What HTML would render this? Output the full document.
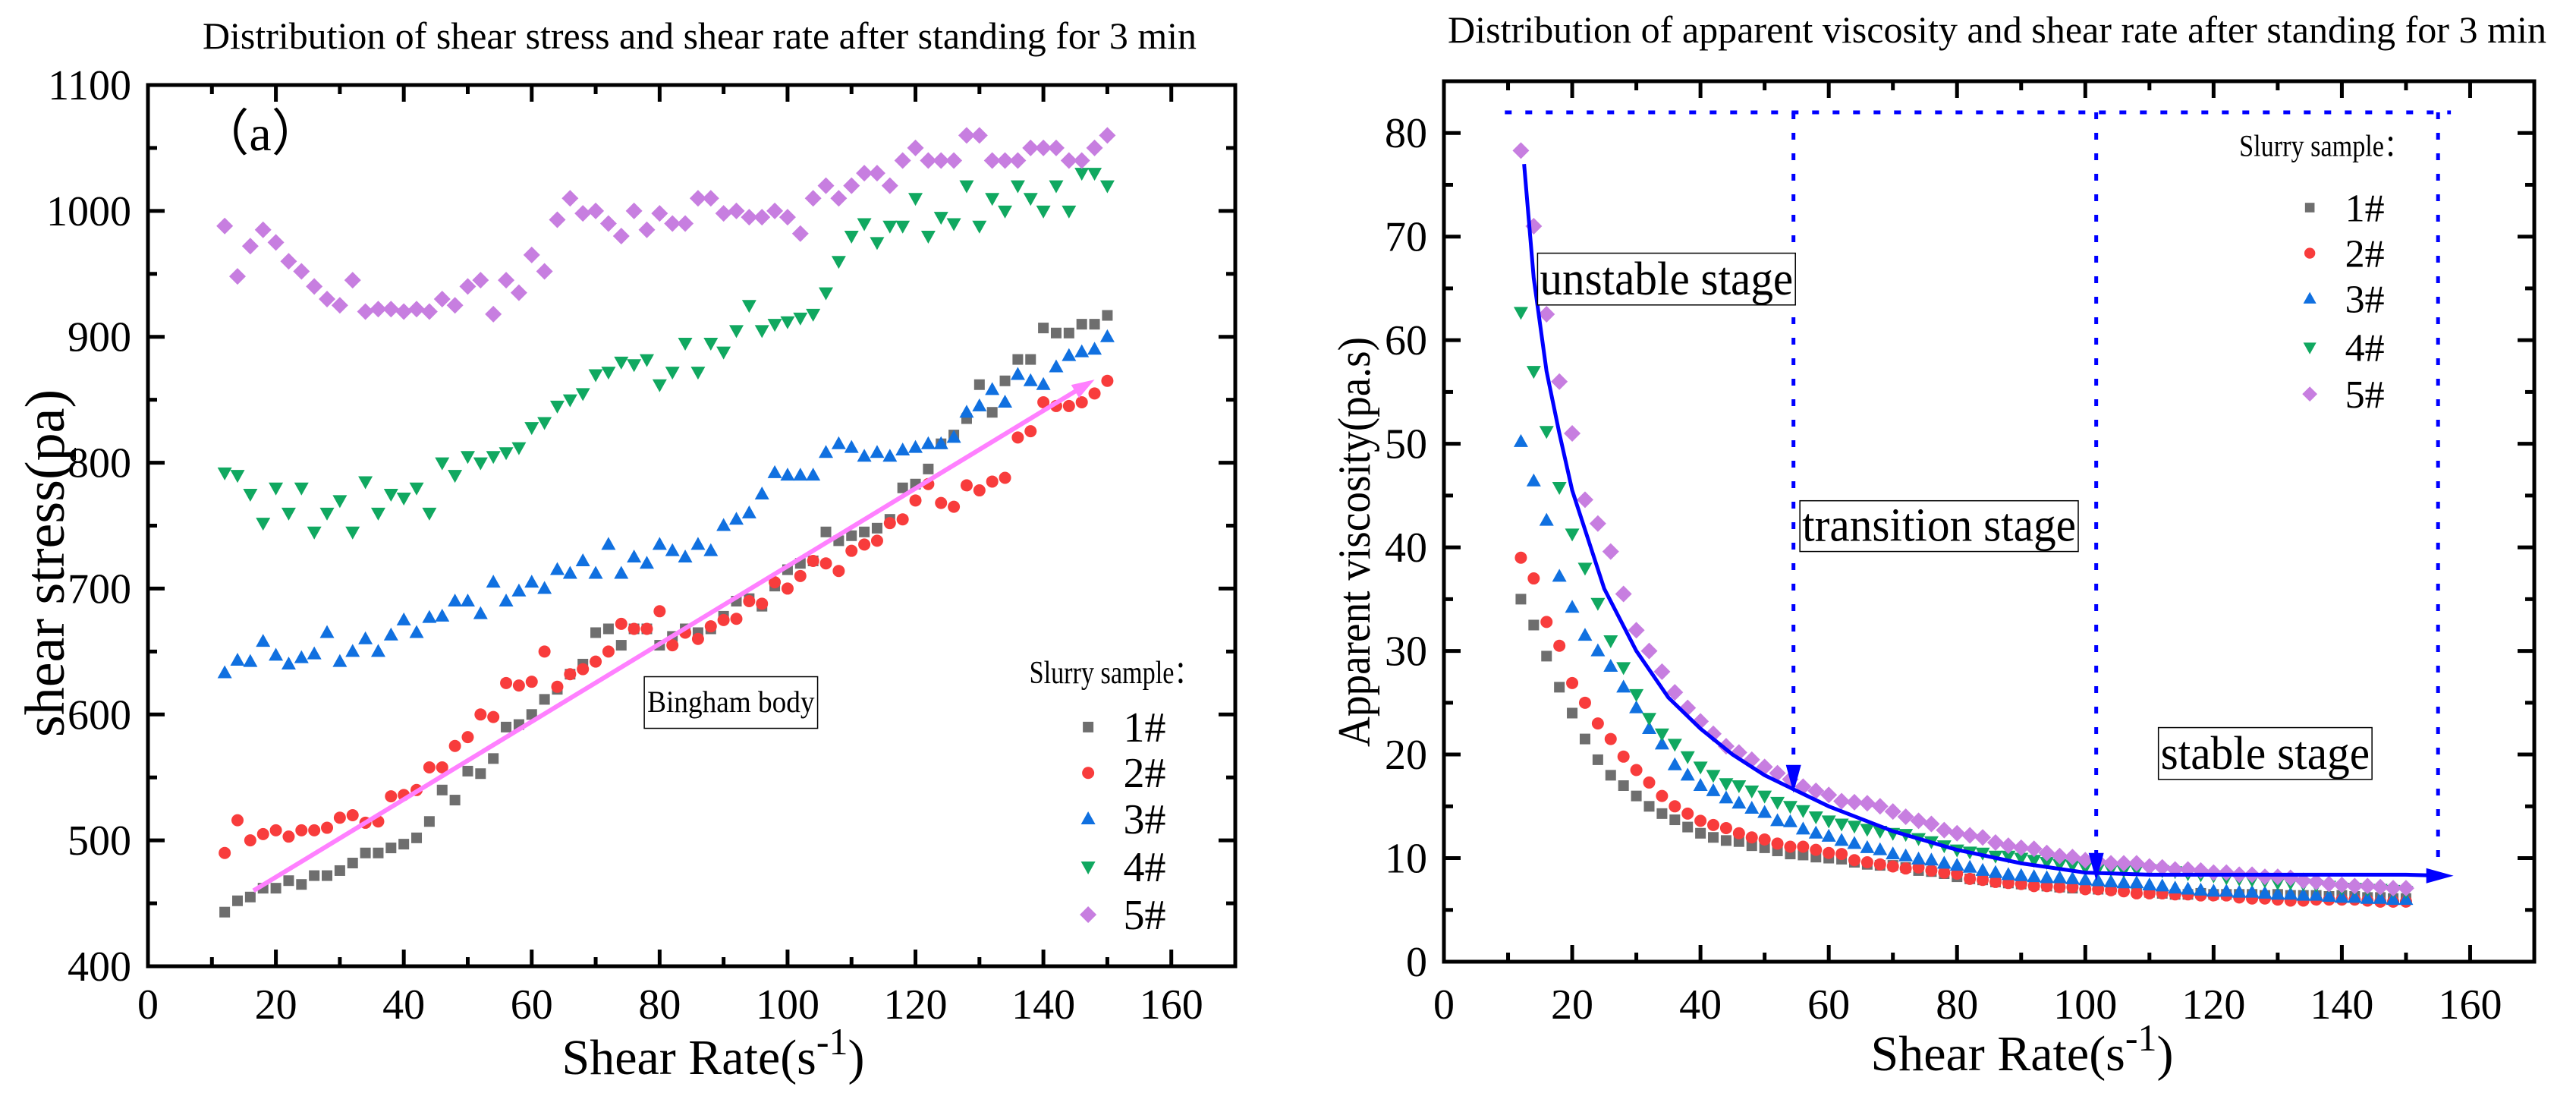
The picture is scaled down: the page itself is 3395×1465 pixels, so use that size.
<!DOCTYPE html>
<html><head><meta charset="utf-8"><style>
html,body{margin:0;padding:0;background:#fff}
svg{display:block}
text{font-family:"Liberation Serif",serif;fill:#000}
</style></head><body>
<svg id="svg" width="3395" height="1465" viewBox="0 0 3395 1465" xmlns="http://www.w3.org/2000/svg"></svg>
<script>
const xs=[12,14,16,18,20,22,24,26,28,30,32,34,36,38,40,42,44,46,48,50,52,54,56,58,60,62,64,66,68,70,72,74,76,78,80,82,84,86,88,90,92,94,96,98,100,102,104,106,108,110,112,114,116,118,120,122,124,126,128,130,132,134,136,138,140,142,144,146,148,150];
const seriesNames=["1#","2#","3#","4#","5#"];
const stress1=[443,452,455,462,462,468,465,472,472,476,482,490,490,494,497,502,515,540,532,555,553,565,590,592,600,612,620,632,640,665,668,655,668,668,655,662,668,665,668,678,690,692,686,702,715,720,722,745,738,742,745,748,755,780,783,795,815,822,835,862,840,865,882,882,907,903,903,910,910,917];
const stress2=[490,516,500,505,508,503,508,508,510,518,520,514,515,535,536,540,558,558,575,582,600,598,625,623,626,650,622,632,636,642,650,672,668,668,682,655,665,660,670,675,676,690,688,705,700,710,722,720,714,730,735,738,752,755,770,783,768,765,782,778,785,788,820,825,848,845,845,848,855,865];
const stress3=[633,643,642,658,647,640,645,648,665,642,650,660,650,663,675,665,677,678,690,690,680,705,690,698,705,700,715,712,722,712,735,712,725,720,735,730,725,735,730,750,755,760,775,792,790,790,790,808,815,812,805,808,805,810,812,815,815,820,840,845,858,848,870,865,862,876,885,888,890,900];
const stress4=[792,790,775,752,780,760,780,745,760,770,745,785,760,775,772,780,760,800,790,805,800,805,808,812,828,832,845,850,855,870,872,880,878,882,862,872,895,872,895,888,905,925,905,910,912,915,918,935,960,980,990,975,988,988,1010,980,995,990,1020,988,1010,1000,1020,1010,1000,1020,1000,1030,1030,1020];
const stress5=[988,948,972,985,975,960,952,940,930,925,945,920,922,922,920,922,920,930,925,940,945,918,945,935,965,952,993,1010,998,1000,990,980,1000,985,998,990,990,1010,1010,998,1000,995,995,1000,995,982,1010,1020,1010,1020,1030,1030,1020,1040,1050,1040,1040,1040,1060,1060,1040,1040,1040,1050,1050,1050,1040,1040,1050,1060];
const visc1=[35,32.5,29.5,26.5,24,21.5,19.5,18,17,16,15,14.3,13.7,13,12.4,12,11.7,11.6,11.2,11,10.7,10.4,10.3,10.1,10,9.9,9.6,9.4,9.3,9.3,9.1,8.8,8.7,8.5,8.2,8,7.9,7.7,7.6,7.5,7.4,7.3,7.2,7.1,7.1,7,7,7,6.8,6.7,6.6,6.5,6.5,6.6,6.5,6.5,6.5,6.5,6.4,6.5,6.4,6.4,6.4,6.3,6.4,6.3,6.2,6.2,6.1,6.1];
const visc2=[39,37,32.8,30.5,26.9,25,23,21.5,19.8,18.5,17.3,16,15,14.3,13.6,13.2,12.9,12.4,12,11.8,11.4,11.1,11.1,10.8,10.5,10.4,9.8,9.6,9.4,9.2,9,9.1,8.8,8.6,8.5,8,7.9,7.7,7.6,7.5,7.3,7.3,7.2,7.2,7,7,6.9,6.8,6.6,6.6,6.6,6.5,6.5,6.4,6.4,6.4,6.2,6.1,6.1,6,5.9,5.9,6,6,6,6,5.9,5.8,5.8,5.8];
const visc3=[50.2,46.4,42.6,37.2,34.2,31.5,30,28.5,26.5,24.5,22.5,21,19,18,17,16.5,15.8,15.3,14.8,14.4,13.6,13.5,12.8,12.4,12.1,11.7,11.4,11,10.8,10.4,10.2,9.9,9.8,9.5,9.3,9.1,8.8,8.6,8.4,8.3,8.2,8.1,8.1,8,7.9,7.8,7.7,7.6,7.6,7.4,7.3,7.1,7,6.9,6.8,6.8,6.7,6.7,6.6,6.5,6.5,6.4,6.4,6.3,6.2,6.2,6.1,6.1,6,6];
const visc4=[62.7,57,51.2,45.8,41.3,38,34.6,31,28.4,25.8,23.5,22,21,19.8,18.8,18,17.2,17,16.5,16,15.4,15,14.6,14,13.6,13.3,13.1,12.8,12.6,12.4,12.3,11.9,11.6,11.2,10.8,10.6,10.5,10.2,10.2,10,9.8,9.6,9.4,9.3,9.1,9,8.9,8.8,8.9,8.9,8.8,8.7,8.5,8.4,8.3,8.1,8,7.9,7.8,7.6,7.6,7.5,7.4,7.3,7.1,7.1,7,7,6.9,6.8];
const visc5=[78.3,71,62.5,56,51,44.6,42.3,39.6,35.5,32,30,28,26,24.5,23.2,22,20.8,20.2,19.5,18.8,18.2,17.6,16.9,16.5,16.1,15.5,15.4,15.3,15,14.5,14,13.6,13.3,12.7,12.4,12.2,12,11.5,11.2,11,10.9,10.5,10.2,10.1,9.8,9.7,9.5,9.5,9.5,9.2,9.1,8.9,8.9,8.8,8.6,8.6,8.4,8.4,8.2,8.2,8.1,7.8,7.7,7.5,7.4,7.3,7.3,7.2,7.1,7.1];
const fitX=[12.5,14,16,18,20,25,30,35,40,45,50,55,60,70,80,90,100,110,120,130,140,150,156];
const fitY=[77,66,57,51,45.5,36,30,25.5,22.5,20,18,16.5,15,12.6,10.8,9.5,8.6,8.4,8.4,8.4,8.4,8.4,8.3];
const xTicks=[0,20,40,60,80,100,120,140,160];
const yTicksL=[400,500,600,700,800,900,1000,1100];
const yTicksR=[0,10,20,30,40,50,60,70,80];

const NS="http://www.w3.org/2000/svg";
const svg=document.getElementById('svg');
function mk(tag,attrs,parent,txt){const e=document.createElementNS(NS,tag);for(const k in attrs)e.setAttribute(k,attrs[k]);if(txt!==undefined)e.textContent=txt;(parent||svg).appendChild(e);return e;}
const colors=["#6e6e6e","#f83c3c","#1070e0","#10a860","#c77ee0"];

function marker(g,i,x,y,s){
  let e;
  if(i===0)e=mk('rect',{x:x-7*s,y:y-7*s,width:14*s,height:14*s,fill:colors[0]},g);
  else if(i===1)e=mk('circle',{cx:x,cy:y,r:8*s,fill:colors[1]},g);
  else if(i===2)e=mk('polygon',{points:`${x},${y-10*s} ${x+9.5*s},${y+7*s} ${x-9.5*s},${y+7*s}`,fill:colors[2]},g);
  else if(i===3)e=mk('polygon',{points:`${x},${y+10*s} ${x+9.5*s},${y-7*s} ${x-9.5*s},${y-7*s}`,fill:colors[3]},g);
  else e=mk('polygon',{points:`${x},${y-11*s} ${x+11*s},${y} ${x},${y+11*s} ${x-11*s},${y}`,fill:colors[4]},g);
  
  
  return e;
}

function axes(g,X0,X1,Y0,Y1,sx,sy,yTicks,yMinor){
  for(let v=0;v<=170;v+=10){const maj=v%20===0;const L=maj?22:12;const x=sx(v);
    mk('line',{x1:x,y1:Y1,x2:x,y2:Y1-L,stroke:'#000','stroke-width':5},g);
    mk('line',{x1:x,y1:Y0,x2:x,y2:Y0+L,stroke:'#000','stroke-width':5},g);}
  yMinor.forEach(v=>{const maj=yTicks.includes(v);const L=maj?22:12;const y=sy(v);
    mk('line',{x1:X0,y1:y,x2:X0+L,y2:y,stroke:'#000','stroke-width':5},g);
    mk('line',{x1:X1,y1:y,x2:X1-L,y2:y,stroke:'#000','stroke-width':5},g);});
  const fr=mk('rect',{x:X0,y:Y0,width:X1-X0,height:Y1-Y0,fill:'none',stroke:'#000','stroke-width':5},g);
  
  const xg=mk('g',{},g);
  xTicks.forEach(v=>mk('text',{x:sx(v),y:1342,'font-size':56,'text-anchor':'middle'},xg,String(v)));
  const yg=mk('g',{},g);
  yTicks.forEach(v=>mk('text',{x:X0-22,y:sy(v)+19,'font-size':56,'text-anchor':'end'},yg,String(v)));
}

/* ---------- LEFT CHART ---------- */
{
const X0=195,X1=1628,Y0=112,Y1=1273;
const sx=v=>X0+(v-0)*(X1-X0)/170, sy=v=>Y1-(v-400)*(Y1-Y0)/700;
const g=mk('g',{});
const t=mk('text',{x:922,y:64,'font-size':50,'text-anchor':'middle',textLength:1310,lengthAdjust:'spacingAndGlyphs'},g,'Distribution of shear stress and shear rate after standing for 3 min');

const minors=[];for(let v=400;v<=1100;v+=50)minors.push(v);
axes(g,X0,X1,Y0,Y1,sx,sy,yTicksL,minors);
const data=[stress1,stress2,stress3,stress4,stress5];
data.forEach((arr,i)=>{const sg=mk('g',{},g);
  arr.forEach((v,k)=>marker(sg,i,sx(xs[k]),sy(v),1));});
const ax1=sx(16.5),ay1=sy(460),ax2=sx(148),ay2=sy(866);
const ang=Math.atan2(ay2-ay1,ax2-ax1);
const bl=mk('line',{x1:ax1,y1:ay1,x2:ax2-20*Math.cos(ang),y2:ay2-20*Math.sin(ang),stroke:'#ff80ff','stroke-width':6},g);

const hx=ax2,hy=ay2,c=Math.cos(ang),s=Math.sin(ang);
mk('polygon',{points:`${hx},${hy} ${hx-30*c+10*s},${hy-30*s-10*c} ${hx-30*c-10*s},${hy-30*s+10*c}`,fill:'#ff80ff'},g);
const bb=mk('g',{},g);
mk('rect',{x:sx(77.6),y:sy(630),width:sx(104.7)-sx(77.6),height:sy(589)-sy(630),fill:'#fff',stroke:'#000','stroke-width':1.5},bb);
mk('text',{x:(sx(77.6)+sx(104.7))/2,y:sy(602),'font-size':40,'text-anchor':'middle',textLength:sx(104.7)-sx(77.6)-8,lengthAdjust:'spacingAndGlyphs'},bb,'Bingham body');
const pa=mk('text',{x:sx(8),y:sy(1048),'font-size':66},g,'（a）');
const lg=mk('g',{},g);
mk('text',{x:sx(137.8),y:sy(625),'font-size':42,textLength:225,lengthAdjust:'spacingAndGlyphs'},lg,'Slurry sample：');
[590,553.6,517,479,441].forEach((yv,i)=>{const e=mk('g',{},lg);
  marker(e,i,sx(147),sy(yv),1);mk('text',{x:sx(152.5),y:sy(yv)+19,'font-size':56},e,seriesNames[i]);});
const yt=mk('text',{x:0,y:0,'font-size':74,'text-anchor':'middle',transform:`translate(84,742) rotate(-90)`},g,'shear stress(pa)');

const xt=mk('text',{x:940,y:1415,'font-size':66,'text-anchor':'middle'},g);

xt.innerHTML='Shear Rate(s<tspan dy="-26" font-size="50">-1</tspan><tspan dy="26">)</tspan>';
}

/* ---------- RIGHT CHART ---------- */
{
const X0=1903,X1=3340,Y0=107,Y1=1267;
const sx=v=>X0+v*(X1-X0)/170, sy=v=>Y1-v*(Y1-Y0)/85;
const g=mk('g',{});
const t=mk('text',{x:2632,y:56,'font-size':50,'text-anchor':'middle',textLength:1448,lengthAdjust:'spacingAndGlyphs'},g,'Distribution of apparent viscosity and shear rate after standing for 3 min');

const minors=[];for(let v=0;v<=85;v+=5)minors.push(v);
axes(g,X0,X1,Y0,Y1,sx,sy,yTicksR,minors);
const data=[visc1,visc2,visc3,visc4,visc5];
data.forEach((arr,i)=>{const sg=mk('g',{},g);
  arr.forEach((v,k)=>marker(sg,i,sx(xs[k]),sy(v),1));});
const dg=mk('g',{stroke:'#0000ff','stroke-width':5,'stroke-dasharray':'9 18',fill:'none'},g);

mk('line',{x1:sx(9.5),y1:sy(82),x2:sx(157),y2:sy(82)},dg);
mk('line',{x1:sx(54.5),y1:sy(82),x2:sx(54.5),y2:sy(18)},dg);
mk('line',{x1:sx(101.7),y1:sy(82),x2:sx(101.7),y2:sy(9.5)},dg);
mk('line',{x1:sx(155),y1:sy(82),x2:sx(155),y2:sy(9.5)},dg);
mk('polygon',{points:`${sx(54.5)-10},${sy(19)} ${sx(54.5)+10},${sy(19)} ${sx(54.5)},${sy(16.3)}`,fill:'#0000ff'},g);
mk('polygon',{points:`${sx(101.7)-10},${sy(10.5)} ${sx(101.7)+10},${sy(10.5)} ${sx(101.7)},${sy(7.8)}`,fill:'#0000ff'},g);
const fc=mk('polyline',{points:fitX.map((x,k)=>sx(x)+','+sy(fitY[k])).join(' '),fill:'none',stroke:'#0000ff','stroke-width':5},g);

const ex=sx(fitX[fitX.length-1]),ey=sy(fitY[fitY.length-1]);
mk('polygon',{points:`${ex+12},${ey} ${ex-24},${ey-10} ${ex-24},${ey+10}`,fill:'#0000ff'},g);
function box(name,x1,x2,y1,y2,txt){const b=mk('g',{},g);
  mk('rect',{x:sx(x1),y:sy(y1),width:sx(x2)-sx(x1),height:sy(y2)-sy(y1),fill:'#fff',stroke:'#000','stroke-width':1.5},b);
  mk('text',{x:(sx(x1)+sx(x2))/2,y:sy(y2)-14,'font-size':62,'text-anchor':'middle',textLength:sx(x2)-sx(x1)-6,lengthAdjust:'spacingAndGlyphs'},b,txt);}
box('unstable-stage-label',14.6,54.8,68.4,63.4,'unstable stage');
box('transition-stage-label',55.5,98.9,44.5,39.6,'transition stage');
box('stable-stage-label',111.4,144.7,22.6,17.6,'stable stage');
const lg=mk('g',{},g);
mk('text',{x:sx(124),y:sy(77.8),'font-size':40,textLength:225,lengthAdjust:'spacingAndGlyphs'},lg,'Slurry sample：');
[72.8,68.4,64,59.3,54.8].forEach((yv,i)=>{const e=mk('g',{},lg);
  marker(e,i,sx(135),sy(yv),0.9);mk('text',{x:sx(140.5),y:sy(yv)+18,'font-size':52},e,seriesNames[i]);});
const yt=mk('text',{x:0,y:0,'font-size':60,'text-anchor':'middle',transform:`translate(1805,714) rotate(-90)`,textLength:540,lengthAdjust:'spacingAndGlyphs'},g,'Apparent viscosity(pa.s)');

const xt=mk('text',{x:2665,y:1410,'font-size':66,'text-anchor':'middle'},g);

xt.innerHTML='Shear Rate(s<tspan dy="-26" font-size="50">-1</tspan><tspan dy="26">)</tspan>';
}
</script>
</body></html>
